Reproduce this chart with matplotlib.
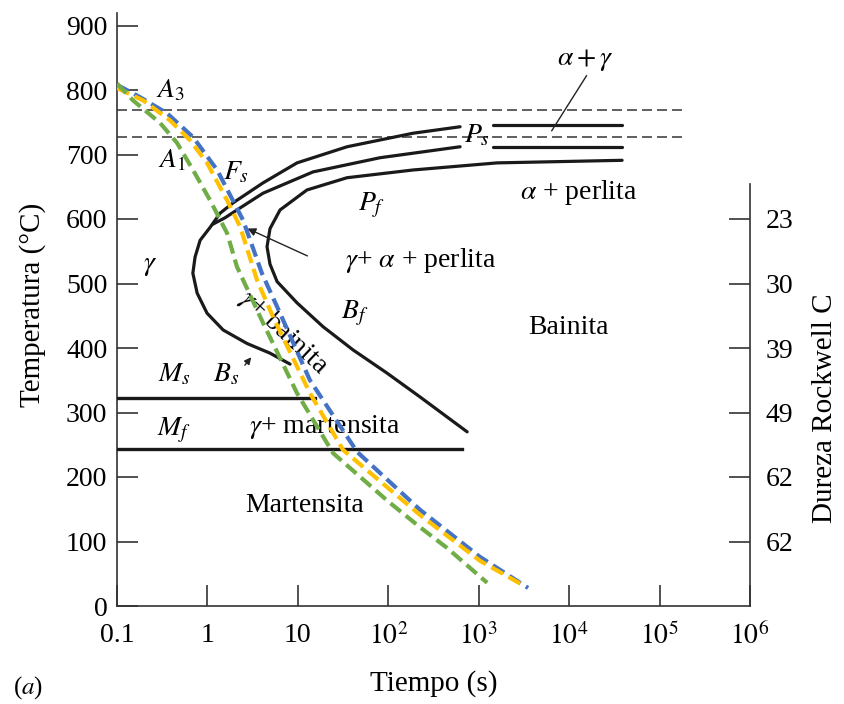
import matplotlib
matplotlib.use('Agg')
import matplotlib.pyplot as plt

plt.rcParams['font.family'] = ['Liberation Serif', 'DejaVu Serif']
plt.rcParams['mathtext.fontset'] = 'stix'

# ---------------- data ----------------
x_ticks = [0.1, 1, 10, 1e2, 1e3, 1e4, 1e5, 1e6]
x_ticklabels = ['0.1', '1', '10', '$10^2$', '$10^3$', '$10^4$', '$10^5$', '$10^6$']
y_ticks = [0, 100, 200, 300, 400, 500, 600, 700, 800, 900]
hrc_temps = [600, 500, 400, 300, 200, 100]
hrc_labels = ['23', '30', '39', '49', '62', '62']

a3_temp = 769
a1_temp = 727
crit_time = [0.1, 1.8e5]

ms_temp = 322
ms_time = [0.1, 15.5]
mf_temp = 243
mf_time = [0.1, 655]

# transformation start curve (Fs / Ps / Bs)
start_time = [622, 188, 35.0, 9.79, 4.12, 1.92, 1.38, 1.07, 0.83, 0.73, 0.69,
              0.77, 0.99, 1.49, 2.74, 4.92, 8.20]
start_temp = [743, 733, 712, 687, 656, 625, 609, 587, 567, 541, 516,
              485, 454, 428, 407, 392, 375]
start_tail_time = [1440, 38500]
start_tail_temp = [745, 745]

# pearlite start branch
pearl_time = [622, 81, 14.7, 4.12, 2.12, 1.57, 1.15]
pearl_temp = [712, 695, 673, 640, 614, 602, 592]
pearl_tail_time = [1440, 38500]
pearl_tail_temp = [712, 712]

# transformation finish curve (Pf / Bf)
finish_time = [38500, 1600, 188, 35.0, 12.6, 6.35, 4.92, 4.56, 4.92, 5.89,
               9.79, 19.0, 40.8, 97.0, 225, 745]
finish_temp = [691, 687, 676, 664, 645, 614, 585, 557, 530, 503,
               470, 433, 397, 361, 324, 270]

# cooling curves
blue_time = [0.1, 0.179, 0.357, 0.693, 1.28, 2.48, 4.0, 6.35, 13.6, 45.2, 225, 1035, 3516]
blue_temp = [808, 789, 764, 727, 676, 598, 516, 454, 350, 239, 149, 76, 28]
orange_time = [0.1, 0.194, 0.385, 0.643, 0.99, 1.65, 2.30, 3.54, 5.32, 13.6, 31.6, 225, 1035, 3200]
orange_temp = [803, 784, 753, 722, 687, 629, 588, 505, 448, 330, 242, 141, 70, 31]
green_time = [0.1, 0.150, 0.299, 0.461, 0.693, 1.07, 1.65, 2.12, 4.12, 9.79, 24.5, 100, 225, 447, 1240]
green_temp = [810, 784, 749, 718, 676, 629, 578, 526, 439, 330, 237, 162, 122, 90, 36]

# ---------------- figure ----------------
W, H = 845, 704
fig = plt.figure(figsize=(W / 100, H / 100), dpi=100)
ax = fig.add_axes([117 / W, (H - 606) / H, 633 / W, 593.4 / H])

ax.set_xscale('log')
ax.set_xlim(0.1, 1e6)
ax.set_ylim(0, 920)

spine_c = '#333333'
for s in ['top', 'right']:
    ax.spines[s].set_visible(False)
for s in ['left', 'bottom']:
    ax.spines[s].set_color(spine_c)
    ax.spines[s].set_linewidth(1.2)

ax.set_xticks(x_ticks)
ax.set_xticklabels(x_ticklabels)
ax.xaxis.set_minor_locator(matplotlib.ticker.NullLocator())
ax.set_yticks(y_ticks)
ax.tick_params(axis='x', direction='in', length=15, width=1.2, color=spine_c,
               labelsize=20, pad=12, top=False)
ax.tick_params(axis='y', direction='in', length=15, width=1.2, color=spine_c,
               labelsize=20, pad=7, right=False)

ax.set_xlabel('Tiempo (s)', fontsize=21)
ax.xaxis.set_label_coords(0.5, -0.108)
ax.set_ylabel('Temperatura (°C)', fontsize=21)
ax.yaxis.set_label_coords(-0.112, 0.508)

ax2 = ax.twinx()
ax2.set_ylim(0, 920)
for s in ['top', 'left', 'bottom']:
    ax2.spines[s].set_visible(False)
ax2.spines['right'].set_bounds(0, 655)
ax2.spines['right'].set_color(spine_c)
ax2.spines['right'].set_linewidth(1.2)
ax2.set_yticks(hrc_temps)
ax2.set_yticklabels(hrc_labels)
ax2.tick_params(axis='y', direction='in', length=15, width=1.2, color=spine_c,
                labelsize=20, pad=11)
ax2.set_ylabel('Dureza Rockwell C', fontsize=21)
ax2.yaxis.set_label_coords(1.098, 0.333)

# critical temperature dashed lines
ax.plot(crit_time, [a3_temp, a3_temp], color='#444444', lw=1.2, dashes=(6, 3), zorder=2)
ax.plot(crit_time, [a1_temp, a1_temp], color='#444444', lw=1.2, dashes=(6, 3), zorder=2)

# martensite lines
ax.plot(ms_time, [ms_temp, ms_temp], color='#1a1a1a', lw=2.4, zorder=3)
ax.plot(mf_time, [mf_temp, mf_temp], color='#1a1a1a', lw=2.4, zorder=3)

# TTT curves
kw = dict(color='#1a1a1a', lw=2.3, solid_joinstyle='round', solid_capstyle='round', zorder=3)
ax.plot(start_time, start_temp, **kw)
ax.plot(start_tail_time, start_tail_temp, **kw)
ax.plot(pearl_time, pearl_temp, **kw)
ax.plot(pearl_tail_time, pearl_tail_temp, **kw)
ax.plot(finish_time, finish_temp, **kw)

# cooling curves
ckw = dict(lw=3.0, dashes=(3.2, 1.5), zorder=6, solid_joinstyle='round')
ax.plot(blue_time, blue_temp, color='#4472C4', **ckw)
ax.plot(orange_time, orange_temp, color='#FFC000', **ckw)
ax.plot(green_time, green_temp, color='#70AD47', **ckw)

# annotations
tkw = dict(ha='center', va='center', fontsize=20, zorder=4)
ax.text(0.385, 799, '$A_3$', **tkw)
ax.text(0.405, 691, '$A_1$', **tkw)
ax.text(2.07, 672, '$F_s$', **tkw)
ax.text(66, 621, '$P_f$', **tkw)
ax.text(955, 730, '$P_s$', **tkw)
ax.text(15000, 846, r'$\alpha + \gamma$', **tkw)
ax.annotate('', xy=(6170, 733), xytext=(16200, 826),
            arrowprops=dict(arrowstyle='-', color='#222222', lw=1.0))
ax.text(12900, 641, r'$\alpha$ + perlita', **tkw)
ax.text(231, 536, r'$\gamma$+ $\alpha$ + perlita', **tkw)
ax.annotate('', xy=(2.6, 587), xytext=(13.6, 541),
            arrowprops=dict(arrowstyle='-|>', color='#222222', lw=1.0,
                            mutation_scale=12))
ax.text(0.232, 528, r'$\gamma$', **tkw)
ax.text(43, 454, '$B_f$', **tkw)
ax.text(9800, 432, 'Bainita', **tkw)
ax.text(6.86, 424, r'$\gamma$+ bainita', rotation=-43, ha='center', va='center',
        fontsize=20, zorder=4, rotation_mode='anchor')
ax.text(0.426, 358, '$M_s$', **tkw)
ax.text(1.61, 358, '$B_s$', **tkw)
ax.annotate('', xy=(3.19, 389), xytext=(2.48, 370),
            arrowprops=dict(arrowstyle='-|>', color='#222222', lw=1.0,
                            mutation_scale=10))
ax.text(0.426, 273, '$M_f$', **tkw)
ax.text(20, 277, r'$\gamma$+ martensita', **tkw)
ax.text(12, 156, 'Martensita', **tkw)

fig.text(28 / W, 1 - 688 / H, '($a$)', ha='center', va='center', fontsize=18)

fig.savefig('out.png', dpi=100)
